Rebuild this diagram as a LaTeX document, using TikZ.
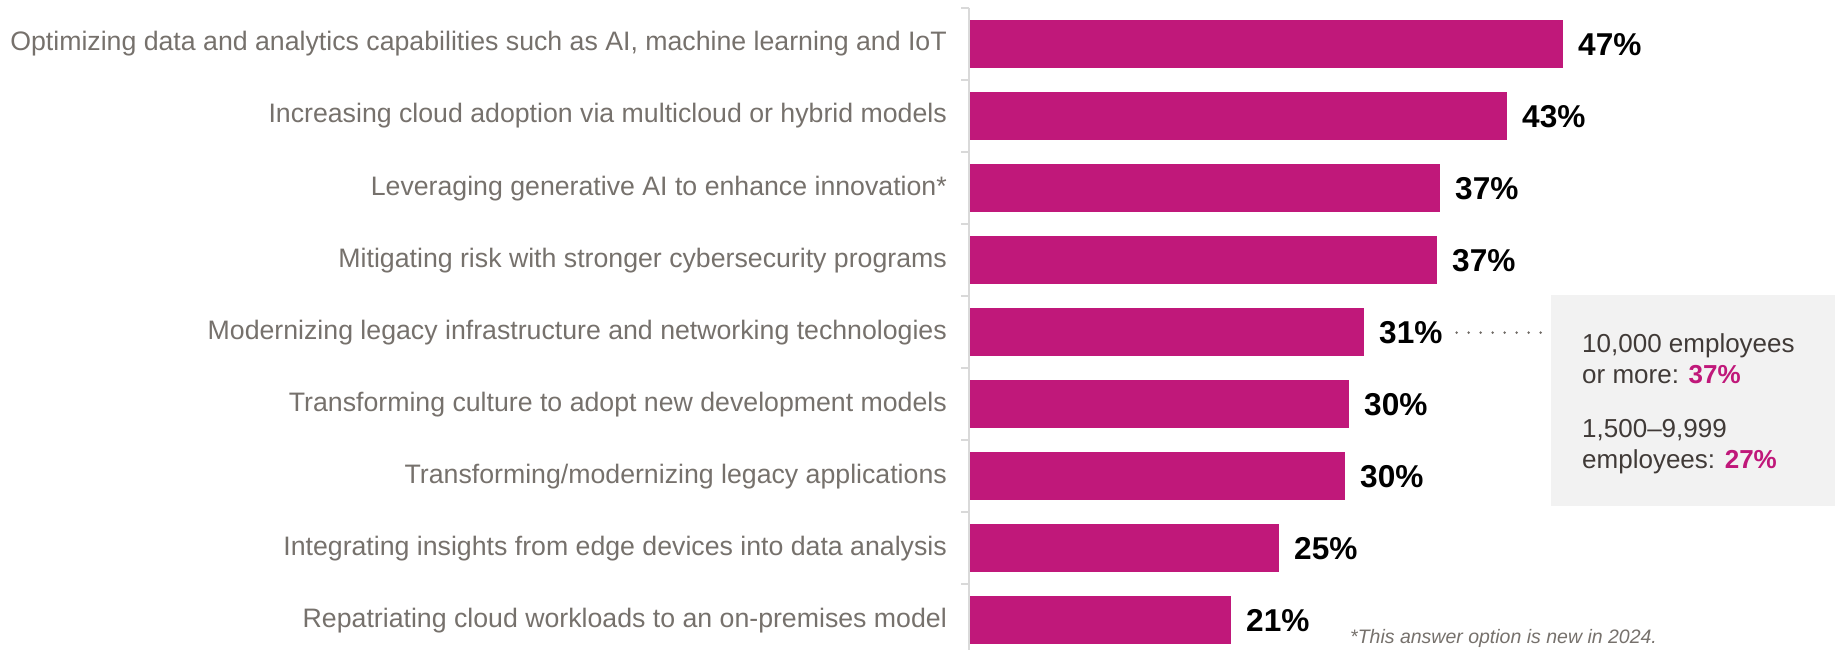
\documentclass[tikz,border=0pt]{standalone}
\usepackage{fontspec}
\setmainfont{Liberation Sans}
\usetikzlibrary{calc}
\definecolor{barc}{RGB}{192,24,122}
\definecolor{labc}{RGB}{118,113,108}
\definecolor{boxc}{RGB}{242,242,242}
\definecolor{boxtxt}{RGB}{64,58,55}
\definecolor{axisc}{RGB}{217,217,217}
\definecolor{dotc}{RGB}{110,105,100}
\begin{document}
\begin{tikzpicture}[x=1pt,y=-1pt,
  barbox/.style={fill=barc, draw=none, inner sep=0pt, outer sep=0pt, minimum height=48pt, anchor=west},
  catlabel/.style={anchor=base east, inner sep=0pt, text=labc, font=\fontsize{26.7}{30}\selectfont},
  vallabel/.style={anchor=base west, inner sep=0pt, text=black, font=\fontsize{31.6}{34}\selectfont\bfseries},
  boxtext/.style={anchor=base west, inner sep=0pt, text=boxtxt, font=\fontsize{26}{30}\selectfont},
  axisline/.style={draw=axisc, line width=1.6pt},
  dotline/.style={draw=dotc, line width=2.8pt, line cap=round, dash pattern=on 0pt off 12pt}]
\useasboundingbox (0,0) rectangle (1835,650);
% axis
\draw[axisline] (969,8) -- (969,650);
\foreach \k in {0,...,8} {\draw[axisline] (961,8+72*\k) -- (969,8+72*\k);}
% bars
\foreach \i/\w/\t/\v in {
  0/593/{Optimizing data and analytics capabilities such as AI, machine learning and IoT}/47,
  1/537/{Increasing cloud adoption via multicloud or hybrid models}/43,
  2/470/{Leveraging generative AI to enhance innovation*}/37,
  3/467/{Mitigating risk with stronger cybersecurity programs}/37,
  4/394/{Modernizing legacy infrastructure and networking technologies}/31,
  5/379/{Transforming culture to adopt new development models}/30,
  6/375/{Transforming/modernizing legacy applications}/30,
  7/309/{Integrating insights from edge devices into data analysis}/25,
  8/261/{Repatriating cloud workloads to an on-premises model}/21} {
  \node[barbox, minimum width=\w pt] (b\i) at (970,44+72*\i) {};
  \node[catlabel] (c\i) at (947,51+72*\i) {\t};
  \node[vallabel] (v\i) at ([xshift=15pt,yshift=-11.5pt]b\i.east) {\v\%};
}
% side box
\node[fill=boxc, draw=none, inner sep=0pt, minimum width=284pt, minimum height=211pt, anchor=north west] (box) at (1551,295) {};
\node[boxtext] (t1) at (1582,352) {10,000 employees};
\node[boxtext] (t2) at (1582,383) {or more: \textcolor{barc}{\bfseries 37\%}};
\node[boxtext] (t3) at (1582,437) {1,500–9,999};
\node[boxtext] (t4) at (1582,468) {employees: \textcolor{barc}{\bfseries 27\%}};
\draw[dotline] ($(v4.east)+(14,0)$) -- ($(box.west |- v4.east)+(-8,0)$);
% footnote
\node[anchor=base west, inner sep=0pt, text=labc, font=\fontsize{19.5}{22}\selectfont\itshape] (fn) at (1350,643) {*This answer option is new in 2024.};
\end{tikzpicture}
\end{document}
